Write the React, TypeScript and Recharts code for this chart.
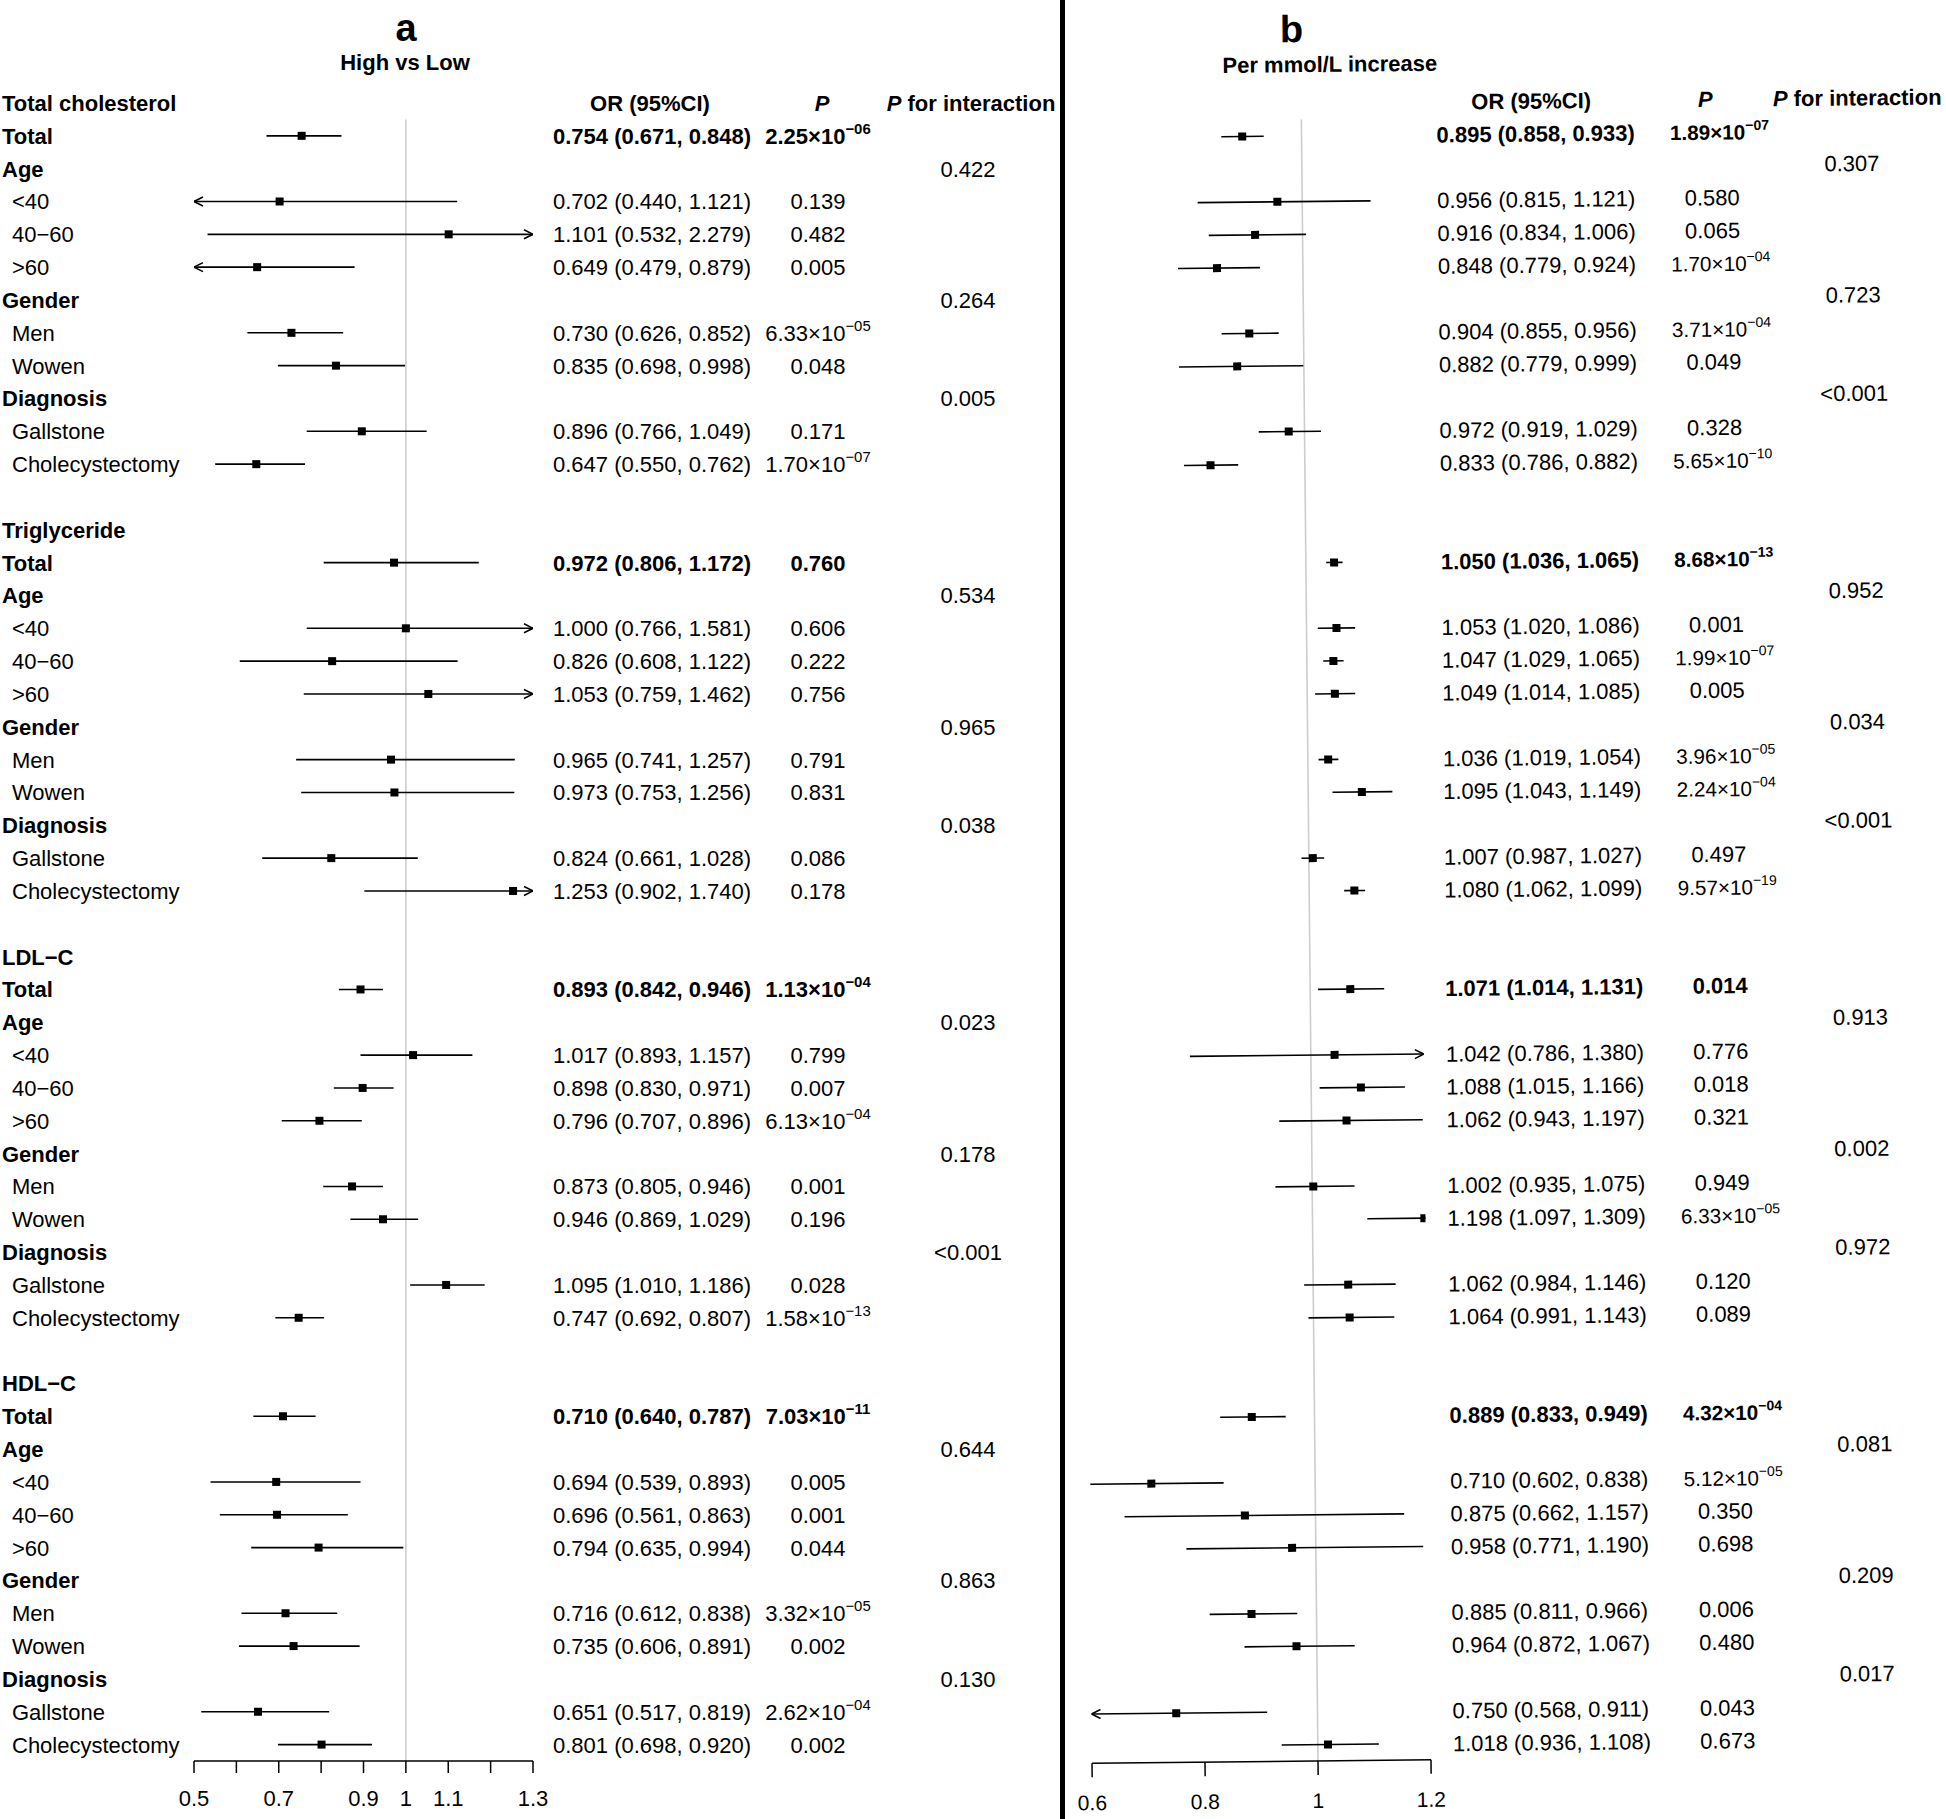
import React from 'react';
import { ScatterChart, Scatter, XAxis, YAxis, ErrorBar, ReferenceLine } from 'recharts';

const FONT = '"Liberation Sans", Arial, Helvetica, sans-serif';

// row layout shared by both panels
const rowLabels = [
  'Total cholesterol', 'Total', 'Age', '<40', '40−60', '>60', 'Gender', 'Men', 'Wowen', 'Diagnosis', 'Gallstone', 'Cholecystectomy', '',
  'Triglyceride', 'Total', 'Age', '<40', '40−60', '>60', 'Gender', 'Men', 'Wowen', 'Diagnosis', 'Gallstone', 'Cholecystectomy', '',
  'LDL−C', 'Total', 'Age', '<40', '40−60', '>60', 'Gender', 'Men', 'Wowen', 'Diagnosis', 'Gallstone', 'Cholecystectomy', '',
  'HDL−C', 'Total', 'Age', '<40', '40−60', '>60', 'Gender', 'Men', 'Wowen', 'Diagnosis', 'Gallstone', 'Cholecystectomy',
];
const groupHeaders = ['Total cholesterol', 'Triglyceride', 'LDL−C', 'HDL−C'];
const subHeaders = ['Age', 'Gender', 'Diagnosis'];

// panel a: High vs Low
const orA = [0.754, 0.702, 1.101, 0.649, 0.730, 0.835, 0.896, 0.647, 0.972, 1.000, 0.826, 1.053, 0.965, 0.973, 0.824, 1.253,
  0.893, 1.017, 0.898, 0.796, 0.873, 0.946, 1.095, 0.747, 0.710, 0.694, 0.696, 0.794, 0.716, 0.735, 0.651, 0.801];
const loA = [0.671, 0.440, 0.532, 0.479, 0.626, 0.698, 0.766, 0.550, 0.806, 0.766, 0.608, 0.759, 0.741, 0.753, 0.661, 0.902,
  0.842, 0.893, 0.830, 0.707, 0.805, 0.869, 1.010, 0.692, 0.640, 0.539, 0.561, 0.635, 0.612, 0.606, 0.517, 0.698];
const hiA = [0.848, 1.121, 2.279, 0.879, 0.852, 0.998, 1.049, 0.762, 1.172, 1.581, 1.122, 1.462, 1.257, 1.256, 1.028, 1.740,
  0.946, 1.157, 0.971, 0.896, 0.946, 1.029, 1.186, 0.807, 0.787, 0.893, 0.863, 0.994, 0.838, 0.891, 0.819, 0.920];
const pA = ['2.25×10^−06', '0.139', '0.482', '0.005', '6.33×10^−05', '0.048', '0.171', '1.70×10^−07',
  '0.760', '0.606', '0.222', '0.756', '0.791', '0.831', '0.086', '0.178',
  '1.13×10^−04', '0.799', '0.007', '6.13×10^−04', '0.001', '0.196', '0.028', '1.58×10^−13',
  '7.03×10^−11', '0.005', '0.001', '0.044', '3.32×10^−05', '0.002', '2.62×10^−04', '0.002'];
const pIntA = ['0.422', '0.264', '0.005', '0.534', '0.965', '0.038', '0.023', '0.178', '<0.001', '0.644', '0.863', '0.130'];

// panel b: per mmol/L increase
const orB = [0.895, 0.956, 0.916, 0.848, 0.904, 0.882, 0.972, 0.833, 1.050, 1.053, 1.047, 1.049, 1.036, 1.095, 1.007, 1.080,
  1.071, 1.042, 1.088, 1.062, 1.002, 1.198, 1.062, 1.064, 0.889, 0.710, 0.875, 0.958, 0.885, 0.964, 0.750, 1.018];
const loB = [0.858, 0.815, 0.834, 0.779, 0.855, 0.779, 0.919, 0.786, 1.036, 1.020, 1.029, 1.014, 1.019, 1.043, 0.987, 1.062,
  1.014, 0.786, 1.015, 0.943, 0.935, 1.097, 0.984, 0.991, 0.833, 0.602, 0.662, 0.771, 0.811, 0.872, 0.568, 0.936];
const hiB = [0.933, 1.121, 1.006, 0.924, 0.956, 0.999, 1.029, 0.882, 1.065, 1.086, 1.065, 1.085, 1.054, 1.149, 1.027, 1.099,
  1.131, 1.380, 1.166, 1.197, 1.075, 1.309, 1.146, 1.143, 0.949, 0.838, 1.157, 1.190, 0.966, 1.067, 0.911, 1.108];
const pB = ['1.89×10^−07', '0.580', '0.065', '1.70×10^−04', '3.71×10^−04', '0.049', '0.328', '5.65×10^−10',
  '8.68×10^−13', '0.001', '1.99×10^−07', '0.005', '3.96×10^−05', '2.24×10^−04', '0.497', '9.57×10^−19',
  '0.014', '0.776', '0.018', '0.321', '0.949', '6.33×10^−05', '0.120', '0.089',
  '4.32×10^−04', '5.12×10^−05', '0.350', '0.698', '0.006', '0.480', '0.043', '0.673'];
const pIntB = ['0.307', '0.723', '<0.001', '0.952', '0.034', '<0.001', '0.913', '0.002', '0.972', '0.081', '0.209', '0.017'];

const axisTicksA = [0.5, 0.6, 0.7, 0.8, 0.9, 1, 1.1, 1.2, 1.3];
const axisLabelsA = ['0.5', '', '0.7', '', '0.9', '1', '1.1', '', '1.3'];
const axisTicksB = [0.6, 0.8, 1, 1.2];
const axisLabelsB = ['0.6', '0.8', '1', '1.2'];

const rowTicks = rowLabels.map((_, i) => i);
const ROW_H = 32.83;
const PLOT_TOP = 103 - ROW_H / 2;
const H = 1819;
const X_AXIS_H = 58;

const isDataRow = (l: string) => l !== '' && !groupHeaders.includes(l) && !subHeaders.includes(l);

interface Row { label: string; bold: boolean; indent: boolean; or?: string; p?: string; pint?: string }

function buildRows(or: number[], lo: number[], hi: number[], p: string[], pint: string[]): Row[] {
  let d = 0;
  let k = 0;
  return rowLabels.map((label) => {
    if (!isDataRow(label)) {
      const sub = subHeaders.includes(label);
      return { label, bold: true, indent: false, pint: sub ? pint[k++] : undefined };
    }
    const i = d++;
    return {
      label,
      bold: label === 'Total',
      indent: label !== 'Total',
      or: `${or[i].toFixed(3)} (${lo[i].toFixed(3)}, ${hi[i].toFixed(3)})`,
      p: p[i],
    };
  });
}

// CI clipped to the axis range; an arrow marks a clipped end (hidden when the box sits on it)
function buildMarks(or: number[], lo: number[], hi: number[], min: number, max: number) {
  const points: any[] = [];
  const arrows: any[] = [];
  const near = (max - min) * 0.01;
  let d = 0;
  rowLabels.forEach((label, row) => {
    if (!isDataRow(label)) return;
    const i = d++;
    const cLo = Math.max(lo[i], min);
    const cHi = Math.min(hi[i], max);
    points.push({ x: or[i], y: row, err: [or[i] - cLo, cHi - or[i]] });
    if (lo[i] < min && or[i] - min > near) arrows.push({ x: min, y: row, dir: 'left' });
    if (hi[i] > max && max - or[i] > near) arrows.push({ x: max, y: row, dir: 'right' });
  });
  return { points, arrows };
}

const Square = (props: any) => {
  const { cx, cy } = props;
  return <rect x={cx - 4} y={cy - 4} width={8} height={8} fill="#000" />;
};

const Arrow = (props: any) => {
  const { cx, cy } = props;
  const dir = props.payload?.dir ?? props.dir;
  const s = dir === 'left' ? 1 : -1;
  return (
    <path d={`M${cx + s * 9},${cy - 4.5} L${cx},${cy} L${cx + s * 9},${cy + 4.5}`} fill="none" stroke="#000" strokeWidth={1.6} />
  );
};

interface Cols {
  orX: number; orHead: number; pX: number; pHead: number; piX: number; piHead: number;
  fs: number; showLabels: boolean; expScale: number; expDx: number;
}

function PValue({ s, y, bold, c }: { s: string; y: number; bold: boolean; c: Cols }) {
  const [m, e] = s.split('^');
  const fs = e ? c.fs * c.expScale : c.fs;
  return (
    <text x={c.pX + (e ? c.expDx : 0)} y={y} dy={0.36 * c.fs} textAnchor="middle" fontFamily={FONT} fontSize={fs} fill="#000"
      fontWeight={bold ? 'bold' : 'normal'}>
      {m}
      {e && <tspan dy={-0.45 * fs} fontSize={fs * 0.68}>{e}</tspan>}
    </text>
  );
}

const RowTick = ({ y, payload, rows, cols }: any) => {
  const r: Row = rows[payload.value];
  const c: Cols = cols;
  if (!r) return <g />;
  const base = { fontFamily: FONT, fontSize: c.fs, fill: '#000', dy: '0.36em', y };
  return (
    <g>
      {c.showLabels && r.label && (
        <text {...base} x={r.indent ? 12 : 2} textAnchor="start" fontWeight={r.bold ? 'bold' : 'normal'}>{r.label}</text>
      )}
      {payload.value === 0 && (
        <>
          <text {...base} x={c.orHead} textAnchor="middle" fontWeight="bold">OR (95%CI)</text>
          <text {...base} x={c.pHead} textAnchor="middle" fontWeight="bold" fontStyle="italic">P</text>
          <text {...base} x={c.piHead} textAnchor="middle" fontWeight="bold">
            <tspan fontStyle="italic">P</tspan>{' for interaction'}
          </text>
        </>
      )}
      {r.or && <text {...base} x={c.orX} textAnchor="start" fontWeight={r.bold ? 'bold' : 'normal'}>{r.or}</text>}
      {r.p && <PValue s={r.p} y={y} bold={r.bold} c={c} />}
      {r.pint && <text {...base} x={c.piX} textAnchor="middle">{r.pint}</text>}
    </g>
  );
};

interface PanelProps {
  width: number; yWidth: number; marginRight: number; domain: [number, number];
  ticks: number[]; labels: string[]; tickFont: number; tickSize: number; tickMargin: number;
  or: number[]; lo: number[]; hi: number[]; p: string[]; pint: string[]; cols: Cols;
}

function ForestPanel(props: PanelProps) {
  const rows = buildRows(props.or, props.lo, props.hi, props.p, props.pint);
  const { points, arrows } = buildMarks(props.or, props.lo, props.hi, props.domain[0], props.domain[1]);
  const fmt = (v: number) => {
    const i = props.ticks.findIndex((t) => Math.abs(t - v) < 1e-6);
    return i >= 0 ? props.labels[i] : '';
  };
  return (
    <ScatterChart width={props.width} height={H} margin={{ top: PLOT_TOP, right: props.marginRight, bottom: 0, left: 0 }}>
      <XAxis
        type="number" dataKey="x" domain={props.domain} ticks={props.ticks} interval={0} allowDataOverflow
        tickFormatter={fmt} height={X_AXIS_H} tickSize={props.tickSize} tickMargin={props.tickMargin}
        axisLine={{ stroke: '#000', strokeWidth: 1.5 }} tickLine={{ stroke: '#000', strokeWidth: 1.5 }}
        tick={{ fill: '#000', fontSize: props.tickFont, fontFamily: FONT }}
      />
      <YAxis
        type="number" dataKey="y" domain={[-0.5, rowLabels.length - 0.5]} reversed allowDataOverflow
        ticks={rowTicks} interval={0} width={props.yWidth} axisLine={false} tickLine={false}
        tick={(t: any) => <RowTick {...t} rows={rows} cols={props.cols} />}
      />
      <ReferenceLine segment={[{ x: 1, y: 0.5 }, { x: 1, y: rowLabels.length - 0.5 }]} stroke="#cdcdcd" strokeWidth={1.6} />
      <Scatter data={points} isAnimationActive={false} shape={Square}>
        <ErrorBar dataKey="err" direction="x" width={0} stroke="#000" strokeWidth={1.6} isAnimationActive={false} />
      </Scatter>
      <Scatter data={arrows} isAnimationActive={false} shape={Arrow} />
    </ScatterChart>
  );
}

const titleStyle = (center: number, top: number, size: number, w: number): React.CSSProperties => ({
  position: 'absolute', left: center - w / 2, top, width: w, textAlign: 'center', fontFamily: FONT,
  fontWeight: 'bold', fontSize: size, lineHeight: 1, color: '#000', whiteSpace: 'nowrap',
});

export default function App() {
  return (
    <div style={{ position: 'absolute', left: 0, top: 0, width: 1946, height: H, overflow: 'hidden', background: '#fff' }}>
      <div style={{ position: 'absolute', left: 0, top: 0, width: 1058, height: H }}>
        <div style={titleStyle(406, 8.8, 38, 60)}>a</div>
        <div style={titleStyle(405, 52.4, 22, 200)}>High vs Low</div>
        <ForestPanel
          width={1058} yWidth={194} marginRight={1058 - 533} domain={[0.5, 1.3]}
          ticks={axisTicksA} labels={axisLabelsA} tickFont={22} tickSize={12} tickMargin={17}
          or={orA} lo={loA} hi={hiA} p={pA} pint={pIntA}
          cols={{ orX: 553, orHead: 650, pX: 818, pHead: 822, piX: 968, piHead: 971, fs: 22, showLabels: true, expScale: 1, expDx: 0 }}
        />
      </div>
      <div style={{ position: 'absolute', left: 1060, top: 0, width: 5, height: H, background: '#000' }} />
      <div
        style={{
          position: 'absolute', left: 1066, top: 0, width: 900, height: H,
          transform: 'rotate(-0.58deg)', transformOrigin: '252px 1762px',
        }}
      >
        <div style={titleStyle(243, 10, 38, 60)}>b</div>
        <div style={titleStyle(281, 54.4, 22, 260)}>Per mmol/L increase</div>
        <ForestPanel
          width={900} yWidth={26} marginRight={900 - 365} domain={[0.6, 1.2]}
          ticks={axisTicksB} labels={axisLabelsB} tickFont={21} tickSize={14} tickMargin={18}
          or={orB} lo={loB} hi={hiB} p={pB} pint={pIntB}
          cols={{ orX: 387, orHead: 482, pX: 662, pHead: 656, piX: 802, piHead: 808, fs: 22, showLabels: false, expScale: 0.94, expDx: 8 }}
        />
      </div>
    </div>
  );
}
